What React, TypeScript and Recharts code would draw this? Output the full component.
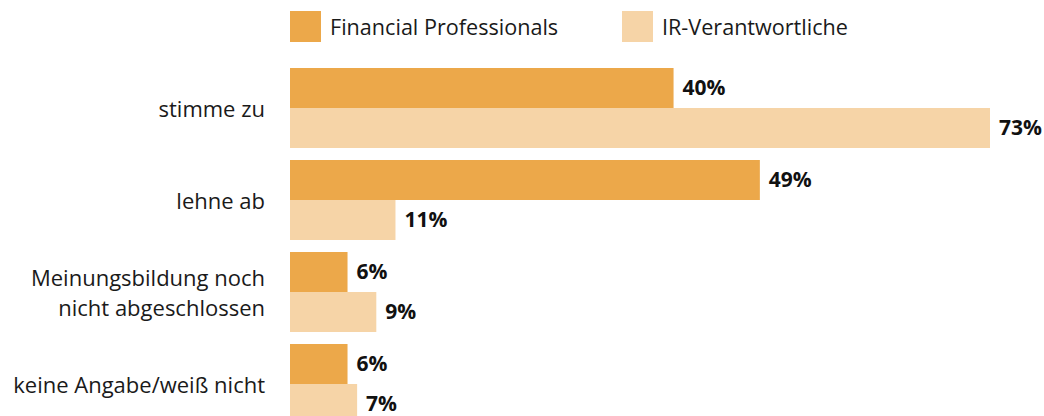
import React from 'react';
import { BarChart, Bar, XAxis, YAxis, Legend, LabelList } from 'recharts';

const categories = [
  'stimme zu',
  'lehne ab',
  'Meinungsbildung noch\nnicht abgeschlossen',
  'keine Angabe/weiß nicht',
];
const financialProfessionals = [40, 49, 6, 6];
const irVerantwortliche = [73, 11, 9, 7];
const seriesNames = ['Financial Professionals', 'IR-Verantwortliche'];

const data = categories.map((c, i) => ({
  name: c,
  fp: financialProfessionals[i],
  ir: irVerantwortliche[i],
}));

const FONT = '"Open Sans", "Noto Sans", sans-serif';
const DARK = '#ECA84A';
const LIGHT = '#F6D4A7';
const legendLeft = [290, 622];

const CategoryTick = (props: any) => {
  const { x, y, payload } = props;
  const lines: string[] = String(payload.value).split('\n');
  const n = lines.length;
  return (
    <text
      x={x}
      y={y}
      textAnchor="end"
      fontFamily={FONT}
      fontSize={22}
      fill="#1a1a1a"
    >
      {lines.map((l, i) => (
        <tspan key={i} x={x} y={y + (i - (n - 1) / 2) * 30} dominantBaseline="central">
          {l}
        </tspan>
      ))}
    </text>
  );
};

const LegendContent = (props: any) => {
  const { payload } = props;
  return (
    <div style={{ position: 'relative', width: 1044, height: 55 }}>
      {(payload || []).map((p: any, i: number) => (
        <div
          key={i}
          style={{
            position: 'absolute',
            left: legendLeft[i],
            top: 11,
            height: 31,
            display: 'flex',
            alignItems: 'center',
            whiteSpace: 'nowrap',
          }}
        >
          <span style={{ display: 'inline-block', width: 31, height: 31, background: p.color }} />
          <span
            style={{
              marginLeft: 9,
              fontFamily: FONT,
              fontSize: 21.6,
              color: '#1a1a1a',
              lineHeight: '31px',
            }}
          >
            {p.value}
          </span>
        </div>
      ))}
    </div>
  );
};

export default function App() {
  return (
    <div
      style={{
        position: 'fixed',
        top: 0,
        left: 0,
        width: 1044,
        height: 416,
        overflow: 'hidden',
        background: '#ffffff',
      }}
    >
      <BarChart
        width={1044}
        height={430}
        data={data}
        layout="vertical"
        margin={{ top: 62, right: 54, bottom: 0, left: 0 }}
        barCategoryGap={6}
        barGap={0}
      >
        <XAxis type="number" domain={[0, 73]} hide />
        <YAxis
          type="category"
          dataKey="name"
          width={290}
          axisLine={false}
          tickLine={false}
          tickSize={0}
          tickMargin={25}
          interval={0}
          tick={<CategoryTick />}
        />
        <Legend
          layout="horizontal"
          verticalAlign="middle"
          align="center"
          wrapperStyle={{ top: 0, left: 0, width: 1044, height: 55 }}
          content={<LegendContent />}
        />
        <Bar dataKey="fp" name={seriesNames[0]} fill={DARK} isAnimationActive={false}>
          <LabelList
            dataKey="fp"
            position="right"
            offset={9}
            formatter={(v: any) => `${v}%`}
            style={{ fontFamily: FONT, fontSize: 21, fontWeight: 700, fill: '#111111' }}
          />
        </Bar>
        <Bar dataKey="ir" name={seriesNames[1]} fill={LIGHT} isAnimationActive={false}>
          <LabelList
            dataKey="ir"
            position="right"
            offset={9}
            formatter={(v: any) => `${v}%`}
            style={{ fontFamily: FONT, fontSize: 21, fontWeight: 700, fill: '#111111' }}
          />
        </Bar>
      </BarChart>
    </div>
  );
}
